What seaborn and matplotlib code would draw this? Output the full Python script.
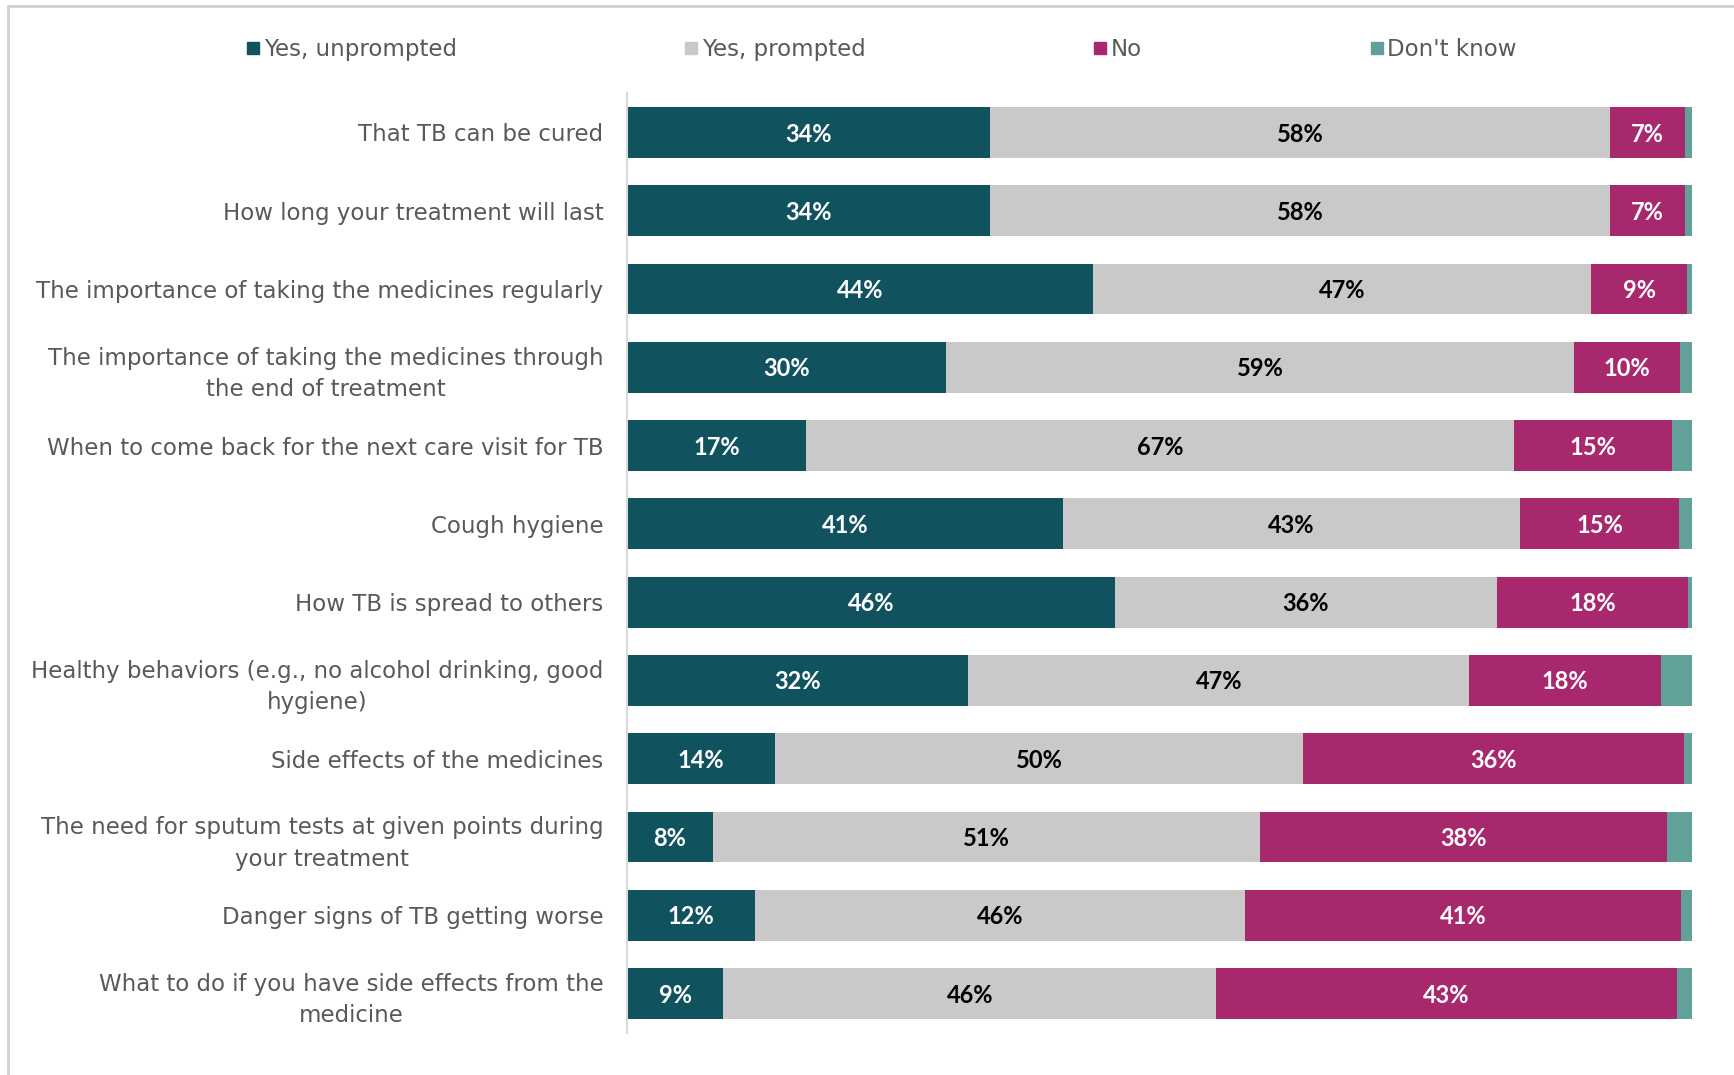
import numpy as np
import pandas as pd
import matplotlib
matplotlib.use("Agg")
import matplotlib.pyplot as plt
from matplotlib.lines import Line2D
import seaborn as sns

categories = [
    "That TB can be cured",
    "How long your treatment will last",
    "The importance of taking the medicines regularly",
    "The importance of taking the medicines through\nthe end of treatment",
    "When to come back for the next care visit for TB",
    "Cough hygiene",
    "How TB is spread to others",
    "Healthy behaviors (e.g., no alcohol drinking, good\nhygiene)",
    "Side effects of the medicines",
    "The need for sputum tests at given points during\nyour treatment",
    "Danger signs of TB getting worse",
    "What to do if you have side effects from the\nmedicine",
]
yes_unprompted = [34, 34, 44, 30, 17, 41, 46, 32, 14, 8, 12, 9]
yes_prompted = [58, 58, 47, 59, 67, 43, 36, 47, 50, 51, 46, 46]
no = [7, 7, 9, 10, 15, 15, 18, 18, 36, 38, 41, 43]
dont_know = [0.7, 0.7, 0.5, 1.1, 1.9, 1.2, 0.4, 2.9, 0.8, 2.3, 1.0, 1.4]

series_names = ["Yes, unprompted", "Yes, prompted", "No", "Don't know"]
colors = ["#10535F", "#C9C9C9", "#A8286E", "#62A09A"]

df = pd.DataFrame({
    "category": categories,
    "Yes, unprompted": yes_unprompted,
    "Yes, prompted": yes_prompted,
    "No": no,
    "Don't know": dont_know,
})
# 100% stacked: each row is scaled to its own total
totals = df[series_names].sum(axis=1)
share = df[series_names].div(totals, axis=0) * 100
cum = share.cumsum(axis=1)

sns.set_style("white")
plt.rcParams["font.family"] = ["DejaVu Sans"]

fig = plt.figure(figsize=(17.34, 10.75), dpi=100)
ax = fig.add_axes([0.3616, 0.0394, 0.9758 - 0.3616, 0.9132 - 0.0394])

# stacked bars: draw cumulative totals from the widest down
for name, color in reversed(list(zip(series_names, colors))):
    sns.barplot(x=cum[name], y=df["category"], orient="h", color=color,
                width=0.65, ax=ax, saturation=1, linewidth=0)

ax.set_xlim(0, 100)
ax.set_ylim(11.5, -0.5)
ax.set_xlabel("")
ax.set_ylabel("")
ax.set_xticks([])

# value labels centred in each segment
label_colors = ["white", "black", "white"]
for i in range(len(categories)):
    left = 0
    for name, tc in zip(series_names[:3], label_colors):
        v = df.loc[i, name]
        w = share.loc[i, name]
        ax.text(left + w / 2, i + 0.02, f"{v:g}%", ha="center", va="center",
                color=tc, fontsize=17, fontweight="bold", family="Lato")
        left += w

ax.set_yticks(range(len(categories)))
ax.set_yticklabels(categories, fontsize=16.5, color="#595959",
                   multialignment="center", linespacing=1.45)
ax.tick_params(axis="y", length=0, pad=17)

for s in ["top", "right", "bottom"]:
    ax.spines[s].set_visible(False)
ax.spines["left"].set_color("#D9D9D9")
ax.spines["left"].set_linewidth(1.5)

handles = [Line2D([0], [0], marker="s", linestyle="", markersize=9,
                  markerfacecolor=c, markeredgecolor=c) for c in colors]
fig.legend(handles, series_names, loc="center", bbox_to_anchor=(0.508, 0.954),
           ncol=4, frameon=False, fontsize=16.5, labelcolor="#595959",
           handletextpad=0.1, columnspacing=9.9, handlelength=0.7)

# light frame along top and left edges
fig.add_artist(Line2D([0.0046, 1.0], [0.9944, 0.9944], transform=fig.transFigure,
                      color="#D0D0D0", linewidth=2))
fig.add_artist(Line2D([0.0046, 0.0046], [0.0, 0.9944], transform=fig.transFigure,
                      color="#D0D0D0", linewidth=2))

fig.savefig("out.png", dpi=100, facecolor="white")
